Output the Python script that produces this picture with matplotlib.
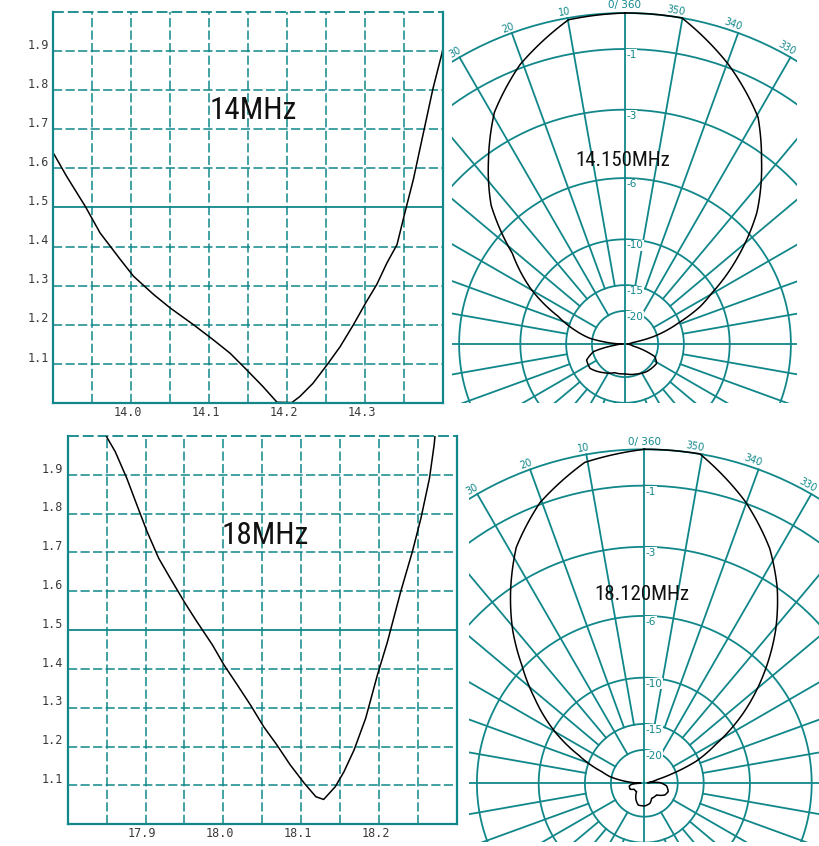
import os
import numpy as np
import matplotlib.pyplot as plt
from matplotlib import font_manager as fm
from matplotlib.transforms import Bbox, TransformedBbox, offset_copy

TEAL = '#11878a'
W, H = 819, 846

# ===== SWR sweeps (MHz, SWR) =====
f14 = [13.901, 13.917, 13.941, 13.960, 13.986, 14.003, 14.029, 14.050, 14.080, 14.105,
       14.127, 14.148, 14.169, 14.187, 14.206, 14.216, 14.233, 14.251, 14.268, 14.285,
       14.302, 14.315, 14.328, 14.341, 14.351, 14.362, 14.374, 14.387, 14.399]
swr14 = [1.636, 1.580, 1.503, 1.435, 1.367, 1.324, 1.277, 1.243, 1.200, 1.162,
         1.127, 1.085, 1.042, 1.002, 1.001, 1.016, 1.050, 1.097, 1.144, 1.200,
         1.260, 1.303, 1.358, 1.405, 1.486, 1.572, 1.683, 1.803, 1.897]

f18 = [17.850, 17.861, 17.876, 17.889, 17.902, 17.917, 17.932, 17.951, 17.966, 17.986,
       18.001, 18.018, 18.035, 18.052, 18.069, 18.086, 18.104, 18.119, 18.129, 18.144,
       18.155, 18.168, 18.183, 18.198, 18.211, 18.228, 18.243, 18.254, 18.265, 18.271, 18.272]
swr18 = [1.998, 1.960, 1.891, 1.822, 1.754, 1.685, 1.633, 1.569, 1.522, 1.462,
         1.410, 1.359, 1.307, 1.251, 1.204, 1.153, 1.106, 1.071, 1.064, 1.097,
         1.135, 1.191, 1.273, 1.384, 1.470, 1.599, 1.702, 1.788, 1.891, 1.977, 1.998]

swr_yticks = [1.1, 1.2, 1.3, 1.4, 1.5, 1.6, 1.7, 1.8, 1.9]
xticks14 = [14.0, 14.1, 14.2, 14.3]
xticks18 = [17.9, 18.0, 18.1, 18.2]

# ===== Azimuth patterns (deg, counter-clockwise from front; dB) =====
az14 = [0, 9.9, 20.6, 29.4, 36.6, 44, 51.2, 59.8, 67.5, 75, 80.8, 83.9, 88, 90,
        97, 100, 103.6, 112.7, 124.8, 142.9, 160, 180, 200, 218.1, 238.6, 247.1, 251.9,
        256, 270, 280, 281.3, 284.5, 291.5, 296.5, 300.5, 307.7, 314.9, 323.4, 329.6,
        339.8, 350.1, 360]
db14 = [0, -0.05, -0.9, -1.9, -3.2, -4.7, -7.2, -9.7, -13.2, -16.3, -19.4, -23.6, -32, -45,
        -30, -24.4, -20.2, -18.0, -17.8, -19.3, -20.7, -20.9, -20.3, -19.5, -19.0, -20.2, -24.7,
        -32, -45, -33, -28.9, -21.1, -15.2, -11.9, -10.3, -7.3, -5.0, -3.2, -2.0,
        -0.9, 0, 0]

az18 = [0, 10.5, 20.4, 28.5, 34.4, 40.8, 46, 52.1, 60, 66.8, 74.7, 79, 84.5, 89,
        94.5, 100.2, 112.8, 120.2, 137.2, 153.6, 164.5, 181.7, 195.8, 206, 226.5, 240.5,
        250.9, 263.1, 272.6, 279, 286, 289, 293, 298.5, 305.1, 311.8, 319.3, 325.8,
        331.9, 340.3, 350.4, 360]
db18 = [0, -0.2, -0.95, -1.9, -3.0, -4.4, -5.85, -7.6, -10.2, -13.4, -17.6, -19.6, -25.5, -40,
        -28.4, -26.8, -26.7, -29, -29.4, -25.1, -23.4, -23.4, -24.1, -26, -25.9, -23,
        -22.4, -23.4, -26.6, -40, -28, -21, -15.5, -12.3, -8.9, -6.5, -4.4, -3.0,
        -1.97, -0.95, 0, 0]

RING_DB = [0, -1, -3, -6, -10, -15, -20]
SPOKES = list(range(0, 360, 10))
AZ_LABELS = [10, 20, 30, 330, 340, 350]

DASH = (0, (6, 2.2))


def pick_narrow():
    # look for an installed narrow / condensed regular face
    prefs = ['liberationsansnarrow', 'arialnarrow', 'robotocondensed', 'notosans-condensed',
             'notosanscondensed', 'opensans_condensed', 'opensanscondensed', 'dejavusanscondensed']
    bad = ['bold', 'light', 'medium', 'thin', 'black', 'semi', 'extra', 'italic', 'oblique']
    found = {}
    for f in fm.fontManager.ttflist:
        base = os.path.basename(f.fname).lower().replace(' ', '')
        if any(b in base for b in bad):
            continue
        for p in prefs:
            if base.startswith(p):
                found.setdefault(p, f.fname)
    for p in prefs:
        if p in found:
            return fm.FontProperties(fname=found[p])
    return None


NARROW = pick_narrow()


def title_text(ax_or_fig, x, y, s, size, **kw):
    if NARROW is not None:
        fp = NARROW.copy()
        fp.set_size(size)
    else:
        fp = fm.FontProperties(family='Liberation Sans', size=size * 0.82)
    return ax_or_fig.text(x, y, s, ha='center', va='center', fontproperties=fp,
                          color='#111111', **kw)


def px_axes(fig, x0, y0, x1, y1, **kw):
    return fig.add_axes([x0 / W, 1 - y1 / H, (x1 - x0) / W, (y1 - y0) / H], **kw)


def swr_panel(ax, f, swr, xlim, xticks, title, title_xy):
    ax.set_xlim(*xlim)
    ax.set_ylim(1.0, 2.0)
    for x in np.arange(xlim[0] + 0.05, xlim[1] - 0.01, 0.05):
        ax.axvline(x, color=TEAL, lw=1.1, ls=DASH)
    for y in swr_yticks:
        if abs(y - 1.5) < 1e-6:
            ax.axhline(y, color=TEAL, lw=1.3)
        else:
            ax.axhline(y, color=TEAL, lw=1.1, ls=DASH)
    ax.axhline(2.0, color=TEAL, lw=1.3, ls=DASH, clip_on=False)
    for s in ['left', 'bottom', 'right']:
        ax.spines[s].set_color(TEAL)
        ax.spines[s].set_linewidth(1.6)
    ax.spines['top'].set_visible(False)
    ax.set_xticks([])
    ax.set_yticks([])
    dx = xlim[1] - xlim[0]
    for y in swr_yticks:
        ax.text(xlim[0] - 0.012 * dx, y + 0.015, f'{y:.1f}', ha='right', va='center',
                family='DejaVu Sans Mono', fontsize=8.5, color='#3a3a3a')
    for x in xticks:
        ax.text(x - 0.004, 0.976, f'{x:.1f}', ha='center', va='center',
                family='DejaVu Sans Mono', fontsize=8.5, color='#3a3a3a')
    ax.plot(f, swr, color='black', lw=1.1)
    title_text(ax, *title_xy, title, 22.5)


def polar_panel(fig, az, db, box, center, R, title, title_px):
    x0, y0, x1, y1 = box
    cx, cy = center
    rmax = 1.1
    rad = R * rmax
    ax = px_axes(fig, cx - rad, cy - rad, cx + rad, cy + rad, projection='polar')
    ax.set_theta_zero_location('N')
    ax.set_theta_direction(1)
    ax.set_rlim(0, rmax)
    ax.axis('off')

    t = np.radians(np.arange(0, 361, 2))
    for d in RING_DB:
        r = 10 ** (d / 20)
        ax.plot(t, np.full(t.shape, r), color=TEAL, lw=1.3)
    for a in SPOKES:
        if a % 90 == 0:
            r0 = 0.0
        elif a % 30 == 0:
            r0 = 0.1
        else:
            r0 = 0.178
        ax.plot([np.radians(a)] * 2, [r0, 1.0], color=TEAL, lw=1.3)

    pat, = ax.plot(np.radians(az), 10 ** (np.array(db) / 20), color='black', lw=1.1)
    pat.get_path()._interpolation_steps = 40

    clip = TransformedBbox(Bbox.from_extents(x0 / W, 1 - y1 / H, x1 / W, 1 - y0 / H),
                           fig.transFigure)
    for ln in ax.lines:
        ln.set_clip_box(clip)

    lab_tr = offset_copy(ax.transData, fig=fig, x=1.5, y=-1.0, units='dots')
    for d in RING_DB[1:]:
        r = 10 ** (d / 20)
        ax.text(0, r, f'-{abs(d)}', transform=lab_tr, ha='left', va='top', fontsize=7.5,
                color=TEAL, bbox=dict(facecolor='white', edgecolor='none', pad=0.4))
    ax.text(0, 1.008, '0/ 360', ha='center', va='bottom', fontsize=7.5, color=TEAL)
    for a in AZ_LABELS:
        pos = a + (0.3 if a < 180 else 1.4)
        ax.text(np.radians(pos), 1.004, str(a), ha='center', va='bottom', fontsize=7,
                color=TEAL, rotation=a if a < 180 else a - 360, rotation_mode='anchor')
    title_text(fig, title_px[0] / W, 1 - title_px[1] / H, title, 15)
    return ax


fig = plt.figure(figsize=(W / 100, H / 100), dpi=100)

ax1 = px_axes(fig, 53.3, 12, 443, 403)
swr_panel(ax1, f14, swr14, (13.9, 14.4), xticks14, '14MHz', (14.157, 1.749))

ax2 = px_axes(fig, 67.7, 436, 456.7, 824.3)
swr_panel(ax2, f18, swr18, (17.8, 18.3), xticks18, '18MHz', (18.054, 1.745))

polar_panel(fig, az14, db14, (452, 0, 797, 403), (625, 344), 331, '14.150MHz', (623, 161))
polar_panel(fig, az18, db18, (469, 432, 819, 842), (644.3, 783.3), 334, '18.120MHz', (641.7, 595))

fig.savefig('out.png', dpi=100)
